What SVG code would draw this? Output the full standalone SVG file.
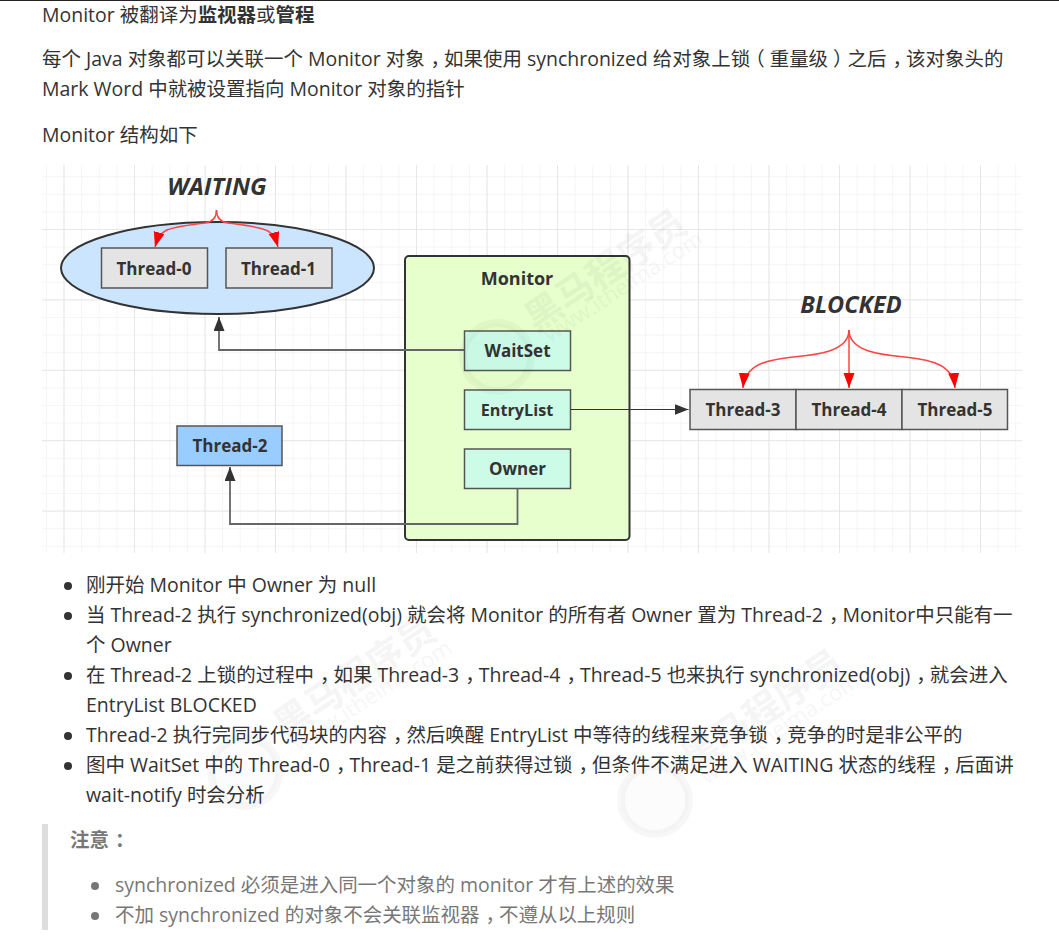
<svg xmlns="http://www.w3.org/2000/svg" width="1059" height="941" viewBox="0 0 1059 941">
<defs>
<style>
text{font-family:"Open Sans","Noto Sans CJK SC",sans-serif}
.p{font-size:19.48px;fill:#333}
.q{font-size:19.48px;fill:#777}
.b{font-weight:700}
.k{letter-spacing:-6px}
.k5{letter-spacing:-5px}
.n{font-size:17px;font-weight:700;fill:#333;text-anchor:middle}
.s{font-size:24px;font-weight:700;font-style:italic;fill:#333;text-anchor:middle}
.g{fill:#e4e4e4;stroke:#555;stroke-width:1.5}
.c{fill:#ccfce8;stroke:#555;stroke-width:1.5}
.l{fill:none;stroke:#666;stroke-width:1.8}
.r{fill:none;stroke:#f44;stroke-width:1.5}
.wm{font-weight:700;font-size:37px;fill:#000;opacity:.035}
.wu{font-size:22px;fill:#000;opacity:.03}
.wc{fill:#000;fill-opacity:.01;stroke:#000;stroke-opacity:.03;stroke-width:8}
</style>
<marker id="ah" markerUnits="userSpaceOnUse" markerWidth="15" markerHeight="12" refX="14" refY="5.500" orient="auto"><path d="M0 0L14 5.500L0 11Z" fill="#333"/></marker>
<marker id="ar" markerUnits="userSpaceOnUse" markerWidth="16" markerHeight="12" refX="15" refY="5.500" orient="auto"><path d="M0 0L15 5.500L0 11Z" fill="#f00"/></marker>
<pattern id="gm" width="17.625" height="17.6" patternUnits="userSpaceOnUse" x="63.5" y="176.2"><path d="M0 0V17.6M0 0H17.625" fill="none" stroke="#ececec" stroke-width="1"/></pattern>
<pattern id="gM" width="70.5" height="70.4" patternUnits="userSpaceOnUse" x="63.5" y="229"><path d="M0 0V70.4M0 0H70.5" fill="none" stroke="#e2e2e2" stroke-width="1.4"/></pattern>
</defs>
<rect width="1059" height="941" fill="#fff"/>
<rect x="0" y="0" width="1059" height="1" fill="#222"/>
<text class="p" x="42" y="21.500">Monitor 被翻译为<tspan class="b">监视器</tspan>或<tspan class="b">管程</tspan></text>
<text class="p" x="42" y="66">每个 Java 对象都可以关联一个 Monitor 对象<tspan dx="6" class="k">，</tspan>如果使用 synchronized 给对象上<tspan class="k5">锁</tspan>（<tspan dx="5">重量级</tspan><tspan dx="5" class="k5">）</tspan>之后<tspan dx="6" class="k">，</tspan>该对象头的</text>
<text class="p" x="42" y="96">Mark Word 中就被设置指向 Monitor 对象的指针</text>
<text class="p" x="42" y="142">Monitor 结构如下</text>
<g id="grid"><rect x="42" y="165" width="980" height="388" fill="url(#gm)"/><rect x="42" y="165" width="980" height="388" fill="url(#gM)"/></g>
<g id="monitor"><rect x="405" y="256" width="224.500" height="284" rx="4" fill="#e6ffcc" stroke="#333" stroke-width="2"/><text class="n" style="font-size:18px" x="517" y="285">Monitor</text></g>
<g id="waiting"><ellipse cx="217.500" cy="268" rx="156.500" ry="46" fill="#cce5ff" stroke="#333" stroke-width="2"/><text class="s" x="217" y="195">WAITING</text></g>
<g id="blocked"><text class="s" style="font-size:23.500px" x="851" y="313">BLOCKED</text></g>
<g id="thread-0"><rect class="g" x="101.500" y="248" width="106" height="40"/><text class="n" x="154" y="274.500">Thread-0</text></g>
<g id="thread-1"><rect class="g" x="226" y="248" width="106" height="40"/><text class="n" x="278.500" y="274.500">Thread-1</text></g>
<g id="thread-2"><rect x="177" y="426" width="105" height="39.500" fill="#99ccff" stroke="#555" stroke-width="1.5"/><text class="n" x="230" y="451.500">Thread-2</text></g>
<g id="thread-3"><rect class="g" x="690" y="389.500" width="106" height="40"/><text class="n" x="743" y="416">Thread-3</text></g>
<g id="thread-4"><rect class="g" x="796" y="389.500" width="106" height="40"/><text class="n" x="849" y="416">Thread-4</text></g>
<g id="thread-5"><rect class="g" x="902" y="389.500" width="105.500" height="40"/><text class="n" x="955" y="416">Thread-5</text></g>
<g id="waitset"><rect class="c" x="464.500" y="331" width="106" height="39.500"/><text class="n" x="517.500" y="357">WaitSet</text></g>
<g id="entrylist"><rect class="c" x="464.500" y="390" width="106" height="39.500"/><text class="n" style="font-size:16.200px" x="517" y="416">EntryList</text></g>
<g id="owner"><rect class="c" x="464.500" y="449" width="106" height="39.500"/><text class="n" x="517.500" y="475">Owner</text></g>
<g id="connectors">
<path class="l" d="M464.500 350H219V317" marker-end="url(#ah)"/>
<path class="l" style="stroke:#333;stroke-width:1.1" d="M570.500 409.500H688.500" marker-end="url(#ah)"/>
<path class="l" d="M517.500 488.500V524H230V467" marker-end="url(#ah)"/>
<path class="r" d="M216.500 210C216.500 218 212 222 205 223C190 225 172 227 165 231C160 234 157 240 155 247" marker-end="url(#ar)"/>
<path class="r" d="M216.500 210C216.500 218 221 222 228 223C243 225 261 227 268 231C273 234 276 240 278 247" marker-end="url(#ar)"/>
<path class="r" d="M849 330C849 352 815 355 793 357C765 360 745 365 743 388" marker-end="url(#ar)"/>
<path class="r" d="M849 330V388" marker-end="url(#ar)"/>
<path class="r" d="M849 330C849 352 883 355 905 357C933 360 953 365 955 388" marker-end="url(#ar)"/>
</g>
<circle cx="68" cy="586" r="4" fill="#333"/>
<text class="p" x="86" y="592">刚开始 Monitor 中 Owner 为 null</text>
<circle cx="68" cy="616" r="4" fill="#333"/>
<text class="p" x="86" y="622">当 Thread-2 执行 synchronized(obj) 就会将 Monitor 的所有者 Owner 置为 Thread-2<tspan dx="6" class="k">，</tspan>Monitor中只能有一</text>
<text class="p" x="86" y="652">个 Owner</text>
<circle cx="68" cy="676" r="4" fill="#333"/>
<text class="p" x="86" y="682">在 Thread-2 上锁的过程中<tspan dx="6" class="k">，</tspan>如果 Thread-3<tspan dx="6" class="k">，</tspan>Thread-4<tspan dx="6" class="k">，</tspan>Thread-5 也来执行 synchronized(obj)<tspan dx="6" class="k">，</tspan>就会进入</text>
<text class="p" x="86" y="712">EntryList BLOCKED</text>
<circle cx="68" cy="736" r="4" fill="#333"/>
<text class="p" x="86" y="742">Thread-2 执行完同步代码块的内容<tspan dx="6" class="k">，</tspan>然后唤醒 EntryList 中等待的线程来竞争锁<tspan dx="6" class="k">，</tspan>竞争的时是非公平的</text>
<circle cx="68" cy="766" r="4" fill="#333"/>
<text class="p" x="86" y="772">图中 WaitSet 中的 Thread-0<tspan dx="6" class="k">，</tspan>Thread-1 是之前获得过锁<tspan dx="6" class="k">，</tspan>但条件不满足进入 WAITING 状态的线程<tspan dx="6" class="k">，</tspan>后面讲</text>
<text class="p" x="86" y="802">wait-notify 时会分析</text>
<rect x="42" y="824" width="6" height="106" fill="#ddd"/>
<text class="q b" x="70" y="847">注意<tspan dx="6">：</tspan></text>
<circle cx="95" cy="886" r="4" fill="#777"/>
<text class="q" x="115" y="892">synchronized 必须是进入同一个对象的 monitor 才有上述的效果</text>
<circle cx="95" cy="916" r="4" fill="#777"/>
<text class="q" x="115" y="922">不加 synchronized 的对象不会关联监视器<tspan dx="6" class="k">，</tspan>不遵从以上规则</text>
<g id="watermarks">
<g id="wm1"><circle class="wc" cx="497" cy="357" r="34"/><text class="wm" transform="translate(536,333) rotate(-34)">黑马程序员</text><text class="wu" transform="translate(550,343) rotate(-33)">www.itheima.com</text></g>
<g id="wm2"><circle class="wc" cx="655" cy="800" r="34"/><text class="wm" transform="translate(693,773) rotate(-34)">黑马程序员</text><text class="wu" transform="translate(707,785) rotate(-33)">www.itheima.com</text></g>
<g id="wm3"><circle class="wc" cx="245" cy="772" r="34"/><text class="wm" transform="translate(285,740) rotate(-34)">黑马程序员</text><text class="wu" transform="translate(299,752) rotate(-33)">www.itheima.com</text></g>
</g>
</svg>
